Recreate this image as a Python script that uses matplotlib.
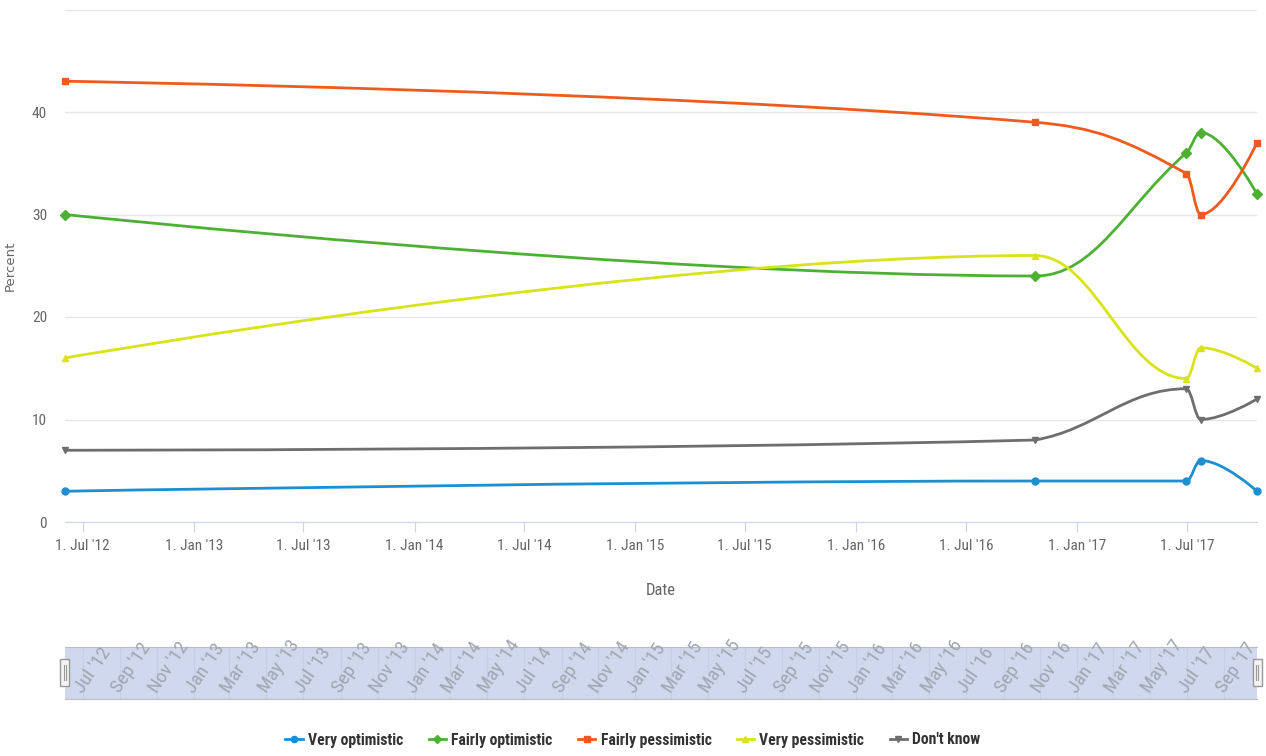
#!/usr/bin/env python3
"""Optimism survey over time, Highcharts-style spline chart with a navigator strip."""
import matplotlib

matplotlib.use("Agg")
import matplotlib.dates as mdates
import matplotlib.pyplot as plt
import pandas as pd
from matplotlib import font_manager
from matplotlib.lines import Line2D
from matplotlib.patches import PathPatch, Rectangle
from matplotlib.path import Path

DATES = ["2012-06-02", "2016-10-23", "2017-06-30", "2017-07-24", "2017-10-25"]
SERIES = ["Very optimistic", "Fairly optimistic", "Fairly pessimistic", "Very pessimistic", "Don't know"]
VERY_OPTIMISTIC = [3, 4, 4, 6, 3]
FAIRLY_OPTIMISTIC = [30, 24, 36, 38, 32]
FAIRLY_PESSIMISTIC = [43, 39, 34, 30, 37]
VERY_PESSIMISTIC = [16, 26, 14, 17, 15]
DONT_KNOW = [7, 8, 13, 10, 12]
Y_TICKS = [0, 10, 20, 30, 40, 50]
Y_TICK_LABELS = ["0", "10", "20", "30", "40", ""]

COLORS = ["#1b8fd2", "#4cb133", "#ef5a1d", "#d8e31b", "#6e6e6e"]
MARKERS = ["o", "D", "s", "^", "v"]

W, H = 1266, 756


def narrow_font():
    """Pick an installed condensed family if there is one."""
    names = sorted({f.name for f in font_manager.fontManager.ttflist})
    for want in ("Liberation Sans Narrow", "DejaVu Sans Condensed", "Roboto Condensed",
                 "Open Sans Condensed", "Noto Sans Condensed"):
        if want in names:
            return {"family": want, "stretch": "normal"}
    for f in font_manager.fontManager.ttflist:
        if f.name == "DejaVu Sans" and "ondensed" in f.fname:
            return {"family": "DejaVu Sans", "stretch": "condensed"}
    for n in names:
        if "Narrow" in n or "Condensed" in n:
            return {"family": n, "stretch": "normal"}
    return {"family": "DejaVu Sans", "stretch": "condensed"}


NARROW = narrow_font()


def spline_path(x, y):
    """Bezier path with Highcharts' spline smoothing (1.5)."""
    n = len(x)
    lc = [(x[i], y[i]) for i in range(n)]
    rc = [(x[i], y[i]) for i in range(n)]
    for i in range(1, n - 1):
        lx = (1.5 * x[i] + x[i - 1]) / 2.5
        ly = (1.5 * y[i] + y[i - 1]) / 2.5
        rx = (1.5 * x[i] + x[i + 1]) / 2.5
        ry = (1.5 * y[i] + y[i + 1]) / 2.5
        if rx != lx:
            corr = (ry - ly) * (rx - x[i]) / (rx - lx) + y[i] - ry
            ly += corr
            ry += corr
        if ly > y[i - 1] and ly > y[i]:
            ly = max(y[i - 1], y[i])
            ry = 2 * y[i] - ly
        elif ly < y[i - 1] and ly < y[i]:
            ly = min(y[i - 1], y[i])
            ry = 2 * y[i] - ly
        if ry > y[i + 1] and ry > y[i]:
            ry = max(y[i + 1], y[i])
            ly = 2 * y[i] - ry
        elif ry < y[i + 1] and ry < y[i]:
            ry = min(y[i + 1], y[i])
            ly = 2 * y[i] - ry
        lc[i] = (lx, ly)
        rc[i] = (rx, ry)
    verts = [(x[0], y[0])]
    codes = [Path.MOVETO]
    for i in range(1, n):
        verts += [rc[i - 1], lc[i], (x[i], y[i])]
        codes += [Path.CURVE4] * 3
    return Path(verts, codes)


def main():
    dates = pd.to_datetime(DATES)
    xs = list(mdates.date2num(dates))
    values = [VERY_OPTIMISTIC, FAIRLY_OPTIMISTIC, FAIRLY_PESSIMISTIC, VERY_PESSIMISTIC, DONT_KNOW]

    fig = plt.figure(figsize=(W / 100, H / 100), dpi=100)
    left, right = 65 / W, 1257 / W
    ax = fig.add_axes([left, 1 - 522 / H, right - left, 512.5 / H])

    for vals, color, marker in zip(values, COLORS, MARKERS):
        path = spline_path(xs, [float(v) for v in vals])
        ax.add_patch(PathPatch(path, facecolor="none", edgecolor=color, lw=2.0,
                               capstyle="round", joinstyle="round", zorder=3))
        ax.plot(dates, vals, linestyle="none", marker=marker, markersize=5,
                color=color, clip_on=False, zorder=4)

    ax.set_xlim(xs[0], xs[-1])
    ax.set_ylim(0, 50)
    ax.set_yticks(Y_TICKS)
    ax.set_yticklabels(Y_TICK_LABELS)
    ax.grid(axis="y", color="#e6e6e6", lw=1)
    ax.set_axisbelow(True)
    for side in ("top", "right", "left"):
        ax.spines[side].set_visible(False)
    ax.spines["bottom"].set_color("#ccd6eb")
    ax.spines["bottom"].set_zorder(2)

    ax.xaxis.set_major_locator(mdates.MonthLocator(bymonth=[1, 7]))
    ax.xaxis.set_major_formatter(mdates.DateFormatter("1. %b '%y"))
    ax.tick_params(axis="x", length=7, color="#ccd6eb", pad=5, labelsize=11, labelcolor="#666666")
    ax.tick_params(axis="y", length=0, pad=13, labelsize=11, labelcolor="#666666")
    for lab in ax.get_xticklabels() + ax.get_yticklabels():
        lab.set_family(NARROW["family"])
        lab.set_stretch(NARROW["stretch"])

    ax.set_ylabel("Percent", fontsize=9.5, color="#666666", family="DejaVu Sans")
    ax.yaxis.set_label_coords((17 - 65) / 1192, 0.5)
    ax.set_xlabel("Date", fontsize=12, color="#666666", **NARROW)
    ax.xaxis.set_label_coords(0.5, (522 - 583) / 512.5)

    # navigator strip
    nav = fig.add_axes([left, 1 - 699 / H, right - left, 52 / H])
    nav.set_xlim(xs[0], xs[-1])
    nav.set_ylim(0, 1)
    nav.set_facecolor("#cfd8ec")
    for side in ("left", "right"):
        nav.spines[side].set_visible(False)
    for side in ("top", "bottom"):
        nav.spines[side].set_color("#bdbdbd")
    nav.set_xticks([])
    nav.set_yticks([])
    nav_ticks = pd.date_range("2012-07-01", "2017-09-01", freq="2MS")
    for t in nav_ticks:
        nav.axvline(t, color="#c6cfe4", lw=0.8, zorder=1)
        nav.text(t, 0.1, t.strftime("%b '%y"), rotation=56, rotation_mode="anchor",
                 ha="left", va="baseline", fontsize=14, color="#a0a6b2",
                 clip_on=False, zorder=3, **NARROW)
    for hx in (65, 1257):
        fx = hx / W
        fig.patches.append(Rectangle((fx - 4.5 / W, 1 - 686 / H), 9 / W, 27 / H,
                                     transform=fig.transFigure, facecolor="#f4f4f4",
                                     edgecolor="#999999", lw=1, zorder=5))
        for dx in (-1.2, 1.2):
            fig.lines.append(Line2D([fx + dx / W] * 2, [1 - 680 / H, 1 - 665 / H],
                                    transform=fig.transFigure, color="#999999",
                                    lw=0.8, zorder=6))

    handles = [Line2D([], [], color=c, marker=m, markersize=4.5, lw=2)
               for c, m in zip(COLORS, MARKERS)]
    leg = fig.legend(handles, SERIES, loc="center", bbox_to_anchor=(0.5, 1 - 740 / H),
                     ncol=5, frameon=False, handlelength=1.1, handletextpad=0.35,
                     columnspacing=1.6,
                     prop={"family": NARROW["family"], "stretch": NARROW["stretch"],
                           "weight": "bold", "size": 11.3})
    for txt in leg.get_texts():
        txt.set_color("#333333")

    fig.savefig("out.png", dpi=100)
    plt.close(fig)


if __name__ == "__main__":
    main()
